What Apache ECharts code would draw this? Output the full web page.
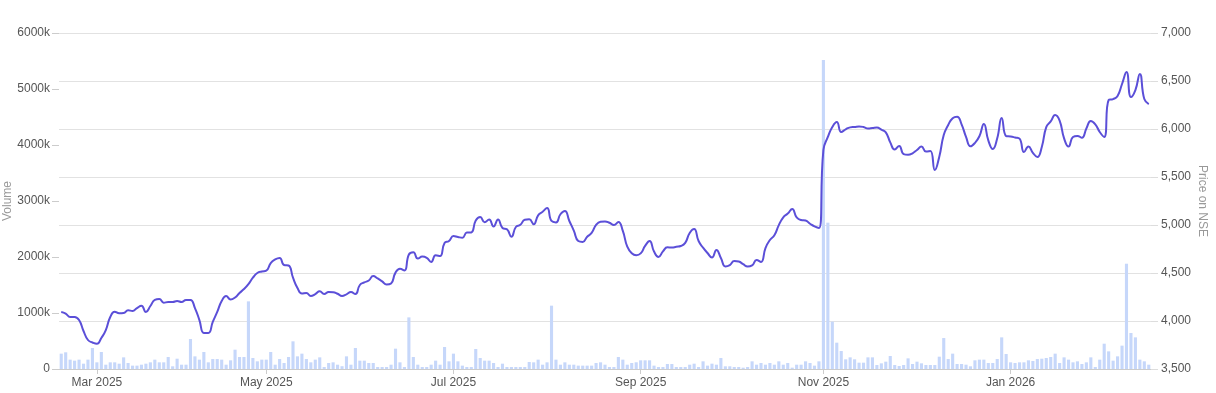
<!DOCTYPE html>
<html>
<head>
<meta charset="utf-8">
<script src="https://cdn.jsdelivr.net/npm/echarts@6/dist/echarts.min.js"></script>
<style>
  html, body { margin: 0; padding: 0; background: #fff; }
  #chart { width: 1216px; height: 393px; }
</style>
</head>
<body>
<div id="chart"></div>
<script>
// ---- Data ----
const START_DATE = '2025-02-18';
const DAY_COUNT = 245;
const HOLIDAYS = ['2025-02-26','2025-03-14','2025-03-31','2025-04-10','2025-04-14','2025-04-18',
  '2025-05-01','2025-08-15','2025-08-27','2025-10-02','2025-10-20','2025-10-21','2025-10-22',
  '2025-12-25','2026-01-26'];
const MONTH_NAMES = ['Jan','Feb','Mar','Apr','May','Jun','Jul','Aug','Sep','Oct','Nov','Dec'];

// Closing price (INR)
const price = [
4094,4078,4042,4042,4010,3896,3802,3776,3762,3823,
3906,4042,4097,4080,4083,4112,4104,4135,4158,4094,
4156,4219,4229,4191,4198,4198,4208,4198,4219,4219,
4135,4010,3875,3875,3990,4094,4208,4260,4224,4245,
4292,4333,4385,4451,4500,4516,4524,4604,4641,4656,
4583,4578,4451,4344,4286,4292,4260,4281,4309,4281,
4302,4300,4284,4260,4278,4302,4281,4375,4402,4422,
4469,4443,4413,4380,4391,4504,4544,4526,4693,4715,
4650,4671,4658,4615,4685,4677,4813,4833,4885,4875,
4867,4921,4923,5046,5083,5028,5056,4985,5056,4969,
4955,4878,4979,5002,5054,5059,5008,5101,5138,5177,
5042,5027,5112,5146,5042,4942,4833,4823,4878,4917,
5001,5034,5037,5023,5000,5031,4938,4774,4706,4685,
4704,4783,4833,4723,4667,4725,4767,4765,4773,4781,
4814,4917,4958,4833,4764,4708,4661,4740,4656,4569,
4583,4625,4619,4592,4568,4579,4635,4615,4760,4844,
4893,4999,5080,5119,5167,5080,5052,5046,5013,4985,
4969,5781,5917,6021,6073,5969,5997,6017,6021,6027,
6021,6005,6010,6016,5993,5965,5861,5786,5823,5738,
5731,5747,5781,5818,5765,5771,5573,5712,5937,6042,
6113,6128,6049,5918,5820,5855,5924,6052,5881,5791,
5903,6115,5927,5922,5912,5900,5760,5818,5752,5708,
5813,6020,6079,6146,6087,5902,5817,5917,5927,5909,
6006,6084,6049,5969,5917,6302,6312,6344,6469,6594,
6333,6406,6573,6312,6260
];

// Volume (thousands of shares)
const volume = [
274,298,167,149,167,95,167,375,119,304,
77,119,119,95,208,107,60,60,77,95,
119,167,119,119,214,48,184,77,77,536,
226,167,304,119,178,178,167,77,155,345,
214,214,1208,196,137,167,167,304,77,178,
107,214,494,226,274,178,119,167,208,36,
107,119,77,50,226,77,375,149,149,107,
107,36,36,36,77,363,119,36,922,214,
77,36,36,77,149,77,393,137,274,137,
60,36,36,357,196,149,149,107,36,95,
36,36,36,36,36,125,119,167,77,119,
1131,167,77,119,77,77,60,60,60,60,
107,119,77,36,36,214,167,77,107,120,
155,155,155,60,36,36,89,89,36,36,
36,77,95,36,137,60,95,77,196,48,
48,36,36,24,36,137,77,107,77,107,
77,137,77,107,24,77,77,137,107,60,
137,5520,2613,845,470,321,173,208,173,113,
113,208,208,71,101,131,232,71,54,71,
190,89,131,101,71,71,71,220,553,178,
274,89,89,77,48,155,167,167,107,107,
178,565,268,119,107,119,119,155,143,178,
184,196,214,274,107,208,167,119,137,89,
119,208,36,167,452,315,149,226,417,1880,
643,565,167,137,77
];

// ---- Trading-day categories ----
function buildDates() {
  const out = [];
  const hol = new Set(HOLIDAYS);
  const d = new Date(START_DATE + 'T00:00:00Z');
  while (out.length < DAY_COUNT) {
    const wd = d.getUTCDay();
    const s = d.toISOString().slice(0, 10);
    if (wd !== 0 && wd !== 6 && !hol.has(s)) out.push(s);
    d.setUTCDate(d.getUTCDate() + 1);
  }
  return out;
}
const dates = buildDates();

function isTick(idx) {
  if (idx <= 0) return false;
  const m = +dates[idx].slice(5, 7);
  const pm = +dates[idx - 1].slice(5, 7);
  return m !== pm && m % 2 === 1;
}
function fmtDate(v) {
  return MONTH_NAMES[+v.slice(5, 7) - 1] + ' ' + v.slice(0, 4);
}

const FONT = 'Liberation Sans, Arial, sans-serif';
const chart = echarts.init(document.getElementById('chart'), null, { renderer: 'canvas' });
chart.setOption({
  animation: false,
  textStyle: { fontFamily: FONT },
  grid: { left: 59, right: 65, top: 33, bottom: 24, containLabel: false, outerBoundsMode: 'none' },
  xAxis: {
    type: 'category',
    data: dates,
    boundaryGap: true,
    axisLine: { lineStyle: { color: '#cccccc', width: 1 } },
    axisTick: { show: true, alignWithLabel: true, interval: (i) => isTick(i), length: 5, lineStyle: { color: '#cccccc' } },
    axisLabel: { interval: (i) => isTick(i), formatter: fmtDate, color: '#555', fontSize: 12, margin: 8, fontFamily: FONT },
    splitLine: { show: false }
  },
  yAxis: [
    {
      type: 'value', min: 0, max: 6000, interval: 1000, position: 'left',
      name: 'Volume', nameLocation: 'middle', nameGap: 45, nameRotate: 90, nameMoveOverlap: false,
      nameTextStyle: { color: '#999', fontSize: 12, fontFamily: FONT },
      axisLine: { show: false },
      axisTick: { show: true, length: 7, lineStyle: { color: '#cccccc' } },
      axisLabel: { formatter: (v) => (v === 0 ? '0' : v + 'k'), color: '#555', fontSize: 12, margin: 9, fontFamily: FONT },
      splitLine: { show: false }
    },
    {
      type: 'value', min: 3500, max: 7000, interval: 500, position: 'right',
      name: 'Price on NSE', nameLocation: 'middle', nameGap: 45, nameRotate: -90, nameMoveOverlap: false,
      nameTextStyle: { color: '#999', fontSize: 12, fontFamily: FONT },
      axisLine: { show: false },
      axisTick: { show: true, length: 7, lineStyle: { color: '#dddddd' } },
      axisLabel: { formatter: (v) => v.toLocaleString('en-US'), color: '#555', fontSize: 12, margin: 10, fontFamily: FONT },
      splitLine: { show: true, lineStyle: { color: '#e2e2e2', width: 1 } }
    }
  ],
  series: [
    {
      type: 'bar', name: 'Volume', yAxisIndex: 0, data: volume,
      barCategoryGap: '30%',
      itemStyle: { color: '#c6d7fa' },
      z: 1
    },
    {
      type: 'line', name: 'Price', yAxisIndex: 1, data: price,
      smooth: true, showSymbol: false, symbol: 'none',
      lineStyle: { color: '#5b4fd8', width: 2 },
      z: 3
    }
  ]
});
</script>
</body>
</html>
